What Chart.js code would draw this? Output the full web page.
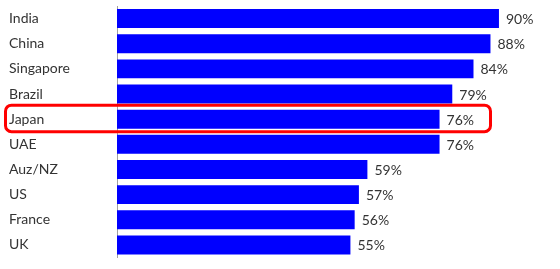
<!DOCTYPE html>
<html>
<head>
<meta charset="utf-8">
<script src="https://cdn.jsdelivr.net/npm/chart.js@4"></script>
<style>
  html, body { margin: 0; padding: 0; background: #fff; }
  #wrap { width: 560px; height: 269px; position: relative; }
</style>
</head>
<body>
<div id="wrap"><canvas id="grafica"></canvas></div>
<script>
var paises = ['India', 'China', 'Singapore', 'Brazil', 'Japan', 'UAE', 'Auz/NZ', 'US', 'France', 'UK'];
var porcentajes = [90, 88, 84, 79, 76, 76, 59, 57, 56, 55];
var resaltado = 'Japan';

var textoColor = '#333333';
var fuente = '14px Lato';

// etiquetas de valor al final de cada barra
var etiquetasValor = {
    id: 'etiquetasValor',
    afterDatasetsDraw: function(chart){
        var ctx = chart.ctx;
        var meta = chart.getDatasetMeta(0);
        ctx.save();
        ctx.font = fuente;
        ctx.fillStyle = textoColor;
        ctx.textAlign = 'left';
        ctx.textBaseline = 'middle';
        meta.data.forEach(function(bar, i){
            ctx.fillText(porcentajes[i] + '%', bar.x + 7, bar.y + 1);
        });
        ctx.restore();
    }
};

// recuadro rojo alrededor de la fila resaltada
var recuadro = {
    id: 'recuadro',
    afterDraw: function(chart){
        var i = paises.indexOf(resaltado);
        if (i < 0) return;
        var y = chart.scales.y.getPixelForValue(i);
        var ctx = chart.ctx;
        ctx.save();
        ctx.strokeStyle = '#ff0000';
        ctx.lineWidth = 3;
        ctx.beginPath();
        ctx.roundRect(5.5, y - 14, 485, 26.5, 6);
        ctx.stroke();
        ctx.restore();
    }
};

var ctx1 = document.getElementById('grafica').getContext('2d');
var chart = new Chart(ctx1, {
    type: 'bar',
    data: {
        labels: paises,
        datasets: [{
            data: porcentajes,
            backgroundColor: '#0000ff',
            borderWidth: 0,
            barPercentage: 0.755,
            categoryPercentage: 1
        }]
    },
    options: {
        indexAxis: 'y',
        responsive: true,
        maintainAspectRatio: false,
        animation: false,
        layout: { padding: { left: 9, right: 18.6, top: 6, bottom: 11.5 } },
        plugins: {
            legend: { display: false },
            tooltip: { enabled: false }
        },
        scales: {
            x: {
                display: false,
                min: 0,
                max: 100
            },
            y: {
                grid: { display: false },
                border: { display: true, color: '#a0a0a0', width: 1 },
                ticks: {
                    color: textoColor,
                    font: { family: 'Lato', size: 14 },
                    crossAlign: 'far'
                },
                afterFit: function(scale){
                    scale.width = 108;
                    scale.paddingTop = 0;
                    scale.paddingBottom = 0;
                }
            }
        }
    },
    plugins: [etiquetasValor, recuadro]
});
</script>
</body>
</html>
